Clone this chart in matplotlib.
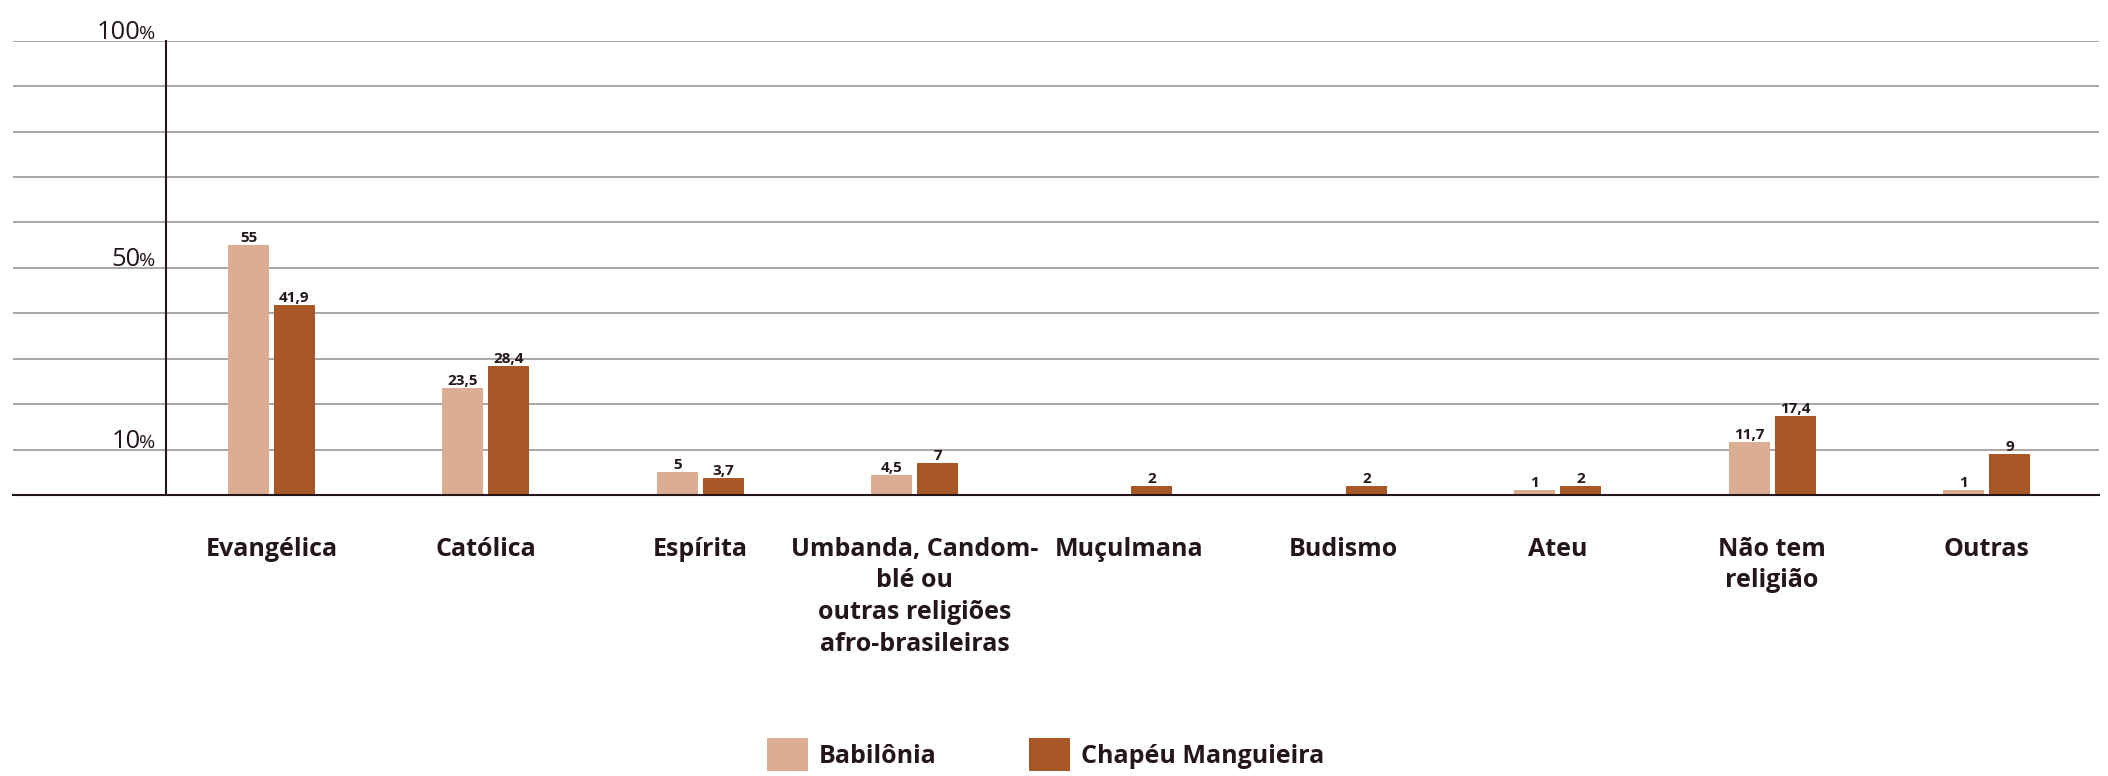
import numpy as np
import matplotlib
matplotlib.use('Agg')
import matplotlib.pyplot as plt

# data
categorias = ['Evangélica', 'Católica', 'Espírita', 'Umbanda, Candom-\nblé ou\noutras religiões\nafro-brasileiras',
              'Muçulmana', 'Budismo', 'Ateu', 'Não tem\nreligião', 'Outras']
babilonia = [55, 23.5, 5, 4.5, None, None, 1, 11.7, 1]
chapeu = [41.9, 28.4, 3.7, 7, 2, 2, 2, 17.4, 9]
series_nomes = ['Babilônia', 'Chapéu Manguieira']
yticks = [10, 50, 100]

cor_clara = '#DBAE91'
cor_escura = '#A85726'
cor_texto = '#24161a'
cor_grade = '#ABA5A5'

plt.rcParams['font.family'] = ['Open Sans', 'DejaVu Sans']


def fmt(v):
    if v is None:
        return ''
    if float(v).is_integer():
        return str(int(v))
    return str(v).replace('.', ',')


W, H = 2108, 776
fig = plt.figure(figsize=(W / 100, H / 100), dpi=100)
ax = fig.add_axes([13 / W, 1 - 495 / H, (2099 - 13) / W, (495 - 40.7) / H])

x = np.arange(len(categorias))
larg = 0.191
desl = 0.107
b_vals = np.array([np.nan if v is None else v for v in babilonia], dtype=float)
c_vals = np.array(chapeu, dtype=float)

b1 = ax.bar(x - desl, b_vals, larg, color=cor_clara, label=series_nomes[0], zorder=3)
b2 = ax.bar(x + desl, c_vals, larg, color=cor_escura, label=series_nomes[1], zorder=3)

ax.bar_label(b1, labels=[fmt(v) for v in babilonia], padding=0, fontsize=11,
             fontweight='bold', color=cor_texto)
ax.bar_label(b2, labels=[fmt(v) for v in chapeu], padding=0, fontsize=11,
             fontweight='bold', color=cor_texto)

ax.set_xlim(-1.206, 8.525)
ax.set_ylim(0, 100)

# grid lines every 10
ax.set_yticks(np.arange(0, 101, 10))
ax.yaxis.grid(True, color=cor_grade, linewidth=1.4, zorder=0)
ax.tick_params(axis='y', length=0, labelleft=False)
ax.set_axisbelow(True)

for s in ['top', 'right']:
    ax.spines[s].set_visible(False)
spine_frac = (166 - 13) / (2099 - 13)
ax.spines['left'].set_position(('axes', spine_frac))
ax.spines['left'].set_color(cor_texto)
ax.spines['left'].set_linewidth(1.5)
ax.spines['left'].set_zorder(4)
ax.spines['bottom'].set_color(cor_texto)
ax.spines['bottom'].set_linewidth(1.5)
ax.spines['bottom'].set_zorder(4)

# y labels: number + smaller %
for v in yticks:
    pct = ax.annotate('%', xy=(spine_frac, v), xycoords=ax.get_yaxis_transform(),
                      xytext=(-8, 1), textcoords='offset points', ha='right', va='baseline',
                      fontsize=14, color=cor_texto)
    ax.annotate(str(v), xy=(0, v), xycoords=(pct, ax.get_yaxis_transform()),
                xytext=(1.5, 1), textcoords='offset points', ha='right', va='baseline',
                fontsize=18.4, color=cor_texto)

ax.set_xticks(x)
ax.set_xticklabels(categorias, fontsize=18, fontweight='bold', color=cor_texto, linespacing=1.35)
ax.tick_params(axis='x', length=0, pad=30)

fig.legend(handles=[b1, b2], labels=series_nomes, loc='upper left',
           bbox_to_anchor=(767 / W, 1 - 738 / H), ncol=2, frameon=False,
           borderpad=0, borderaxespad=0, handlelength=1.64, handleheight=1.64,
           handletextpad=0.44, columnspacing=3.68,
           prop={'size': 18, 'weight': 'bold'}, labelcolor=cor_texto)

fig.savefig('out.png', dpi=100)
